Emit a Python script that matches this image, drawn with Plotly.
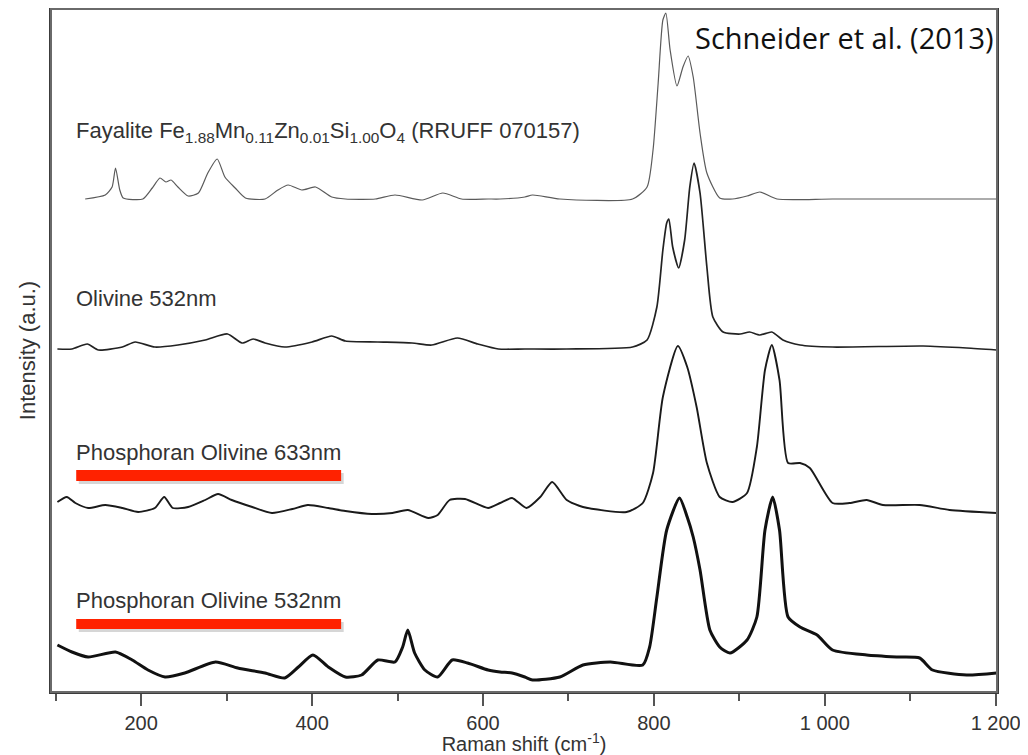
import plotly.graph_objects as go

# ---------------- data (Raman shift in cm^-1, stacked intensity in a.u.) ----------------
fay_x = [134.5, 158, 166, 170, 175, 179, 202, 213, 222, 229, 235, 243, 255, 267, 278, 289, 298, 310, 322,
         345, 360, 372, 388, 404, 423, 439, 474, 497, 529, 553, 575, 606, 620, 649, 658, 690, 775, 792,
         799, 805, 810.5, 814, 819, 827, 834, 840, 846, 854, 862, 877, 892, 909, 924, 944, 1009, 1202]
fay_y = [493, 497, 505, 524, 502, 494, 493, 504, 514, 510, 512, 505, 496, 499, 519, 533, 515, 504, 494,
         493, 502, 507, 502, 505, 495, 493, 493, 497, 492, 499, 493, 493, 493, 495, 497, 493, 493, 505,
         542, 609, 672, 679, 642, 606, 625, 636, 615, 559, 519, 494, 493, 496, 500, 493, 493, 493]

oli_x = [102, 119, 137, 150, 178, 193, 216, 243, 275, 301, 318, 331, 345, 368, 400, 423, 439, 477, 517,
         540, 570, 594, 618, 649, 698, 775, 792, 803.5, 810.5, 815, 817.5, 822, 829, 836, 842, 847, 854,
         862, 869, 881, 901, 912, 924, 938, 951, 971, 1009, 1115, 1166, 1201]
oli_y = [343, 343, 348, 342, 345, 350, 345, 347, 352, 358, 349, 353, 349, 345, 350, 356, 351, 350, 349,
         347, 354, 348, 343, 343, 343, 345, 352, 385, 442, 469, 473, 445, 424, 452, 505, 529, 499,
         425, 375, 360, 358, 360, 357, 360, 352, 347, 345, 346, 344, 342]

p633_x = [102, 113, 123, 138, 158, 178, 196.5, 216, 227, 237, 255, 275, 290, 306, 330, 353, 377, 395, 419,
          439, 470, 494, 512, 536, 547, 561, 579, 606, 620, 634, 651, 667, 681, 698, 717, 768, 787, 799,
          810.5, 828, 839, 850, 862, 877, 892, 909, 920.5, 930, 938, 947, 957, 971, 982.5, 1009, 1029,
          1049, 1068, 1111, 1146, 1201]
p633_y = [190, 195, 189, 184, 187, 184, 180, 184, 195, 184, 185, 192, 198, 192, 185, 179, 183, 187, 184,
          181, 178, 179, 182, 174, 177, 192, 193, 184, 189, 194, 184, 195, 210, 192, 185, 180, 189, 219,
          295, 346, 325, 285, 229, 195, 190, 199, 245, 322, 347, 312, 229, 229, 224, 189, 189,
          192, 187, 187, 182, 179]

p532_x = [102, 119, 138, 170, 189.5, 208, 228, 251, 287, 313, 345, 368, 384, 401, 419, 439, 458, 477, 497,
          506, 512, 520, 532, 547, 564, 582, 606, 620, 634, 649, 658, 690, 717, 749, 787, 795, 803.5,
          815, 830, 839, 846, 854, 865.5, 877, 889, 909, 920.5, 930, 939, 947, 957, 971, 991, 1009,
          1049, 1084, 1111, 1126, 1166, 1201]
p532_y = [47, 40, 35, 40, 32, 22, 15, 19, 30, 24, 19, 14, 25, 37, 25, 15, 17, 32, 30,
          45, 62, 39, 22, 15, 32, 29, 22, 20, 19, 15, 12, 15, 27, 30, 27, 45, 95,
          162, 194, 175, 155, 122, 62, 45, 39, 52, 75, 162, 195, 162, 75, 65, 57, 42,
          37, 35, 34, 22, 17, 19]

x_ticks = [200, 400, 600, 800, 1000, 1200]
x_minor_ticks = [100, 300, 500, 700, 900, 1100]

# ---------------- figure ----------------
fig = go.Figure()
spl = dict(shape="spline", smoothing=0.6)
fig.add_trace(go.Scatter(x=fay_x, y=fay_y, mode="lines", line=dict(color="#5a5a5a", width=1.2, **spl),
                         name="Fayalite", showlegend=False))
fig.add_trace(go.Scatter(x=oli_x, y=oli_y, mode="lines", line=dict(color="#222222", width=1.7, **spl),
                         name="Olivine 532nm", showlegend=False))
fig.add_trace(go.Scatter(x=p633_x, y=p633_y, mode="lines", line=dict(color="#1a1a1a", width=1.9, **spl),
                         name="Phosphoran Olivine 633nm", showlegend=False))
fig.add_trace(go.Scatter(x=p532_x, y=p532_y, mode="lines", line=dict(color="#111111", width=3.0, **spl),
                         name="Phosphoran Olivine 532nm", showlegend=False))

label_font = dict(family="Liberation Sans, Arial, sans-serif", size=22, color="#333333")
labels = [
    ("Fayalite Fe<sub>1.88</sub>Mn<sub>0.11</sub>Zn<sub>0.01</sub>Si<sub>1.00</sub>O<sub>4</sub> (RRUFF 070157)", 560),
    ("Olivine 532nm", 394),
    ("Phosphoran Olivine 633nm", 240),
    ("Phosphoran Olivine 532nm", 92),
]
for txt, yy in labels:
    fig.add_annotation(text=txt, x=0.024, xref="paper", y=yy, yref="y", xanchor="left",
                       yanchor="middle", showarrow=False, font=label_font)

# red underline bars with faint shadow
for y0, y1 in [(211, 222), (63, 73)]:
    fig.add_shape(type="rect", x0=127, x1=437, y0=y0 - 3, y1=y1 - 3, xref="x", yref="y",
                  fillcolor="rgba(0,0,0,0.16)", line=dict(width=0), layer="above")
    fig.add_shape(type="rect", x0=124, x1=434, y0=y0, y1=y1, xref="x", yref="y",
                  fillcolor="#ff2200", line=dict(width=0), layer="above")

# plot frame (top and right edges in grey)
fig.add_shape(type="rect", x0=0, x1=1, y0=0, y1=1, xref="paper", yref="paper",
              line=dict(color="#6a6a6a", width=2), fillcolor="rgba(0,0,0,0)", layer="above")

fig.add_annotation(text="Schneider et al. (2013)", x=0.999, xref="paper", y=1 - (37 - 8) / 684,
                   yref="paper", xanchor="right", yanchor="middle", showarrow=False,
                   font=dict(family="Open Sans, sans-serif", size=29, color="#111111"))

# the page body adds an 8px margin, so the figure is sized/margined to compensate
fig.update_layout(
    width=1020, height=747,
    margin=dict(l=43, r=31, t=1, b=63, autoexpand=False),
    paper_bgcolor="white", plot_bgcolor="white",
    separators=". ",
    font=dict(family="Liberation Sans, Arial, sans-serif", color="#333333"),
    xaxis=dict(
        range=[94.5, 1201.5], showgrid=False, zeroline=False, automargin=False,
        showline=True, mirror=True, linecolor="#3c3c3c", linewidth=1.5,
        ticks="outside", ticklen=12, tickwidth=1.5, tickcolor="#555555",
        tickvals=x_ticks, separatethousands=True,
        tickfont=dict(size=20, color="#333333"),
        minor=dict(tickvals=x_minor_ticks, ticks="outside", ticklen=7,
                   tickwidth=1.5, tickcolor="#555555"),
        title=dict(text="Raman shift (cm<sup>-1</sup>)", font=dict(size=20, color="#333333"), standoff=1),
    ),
    yaxis=dict(
        range=[0, 683], showgrid=False, zeroline=False, automargin=False,
        showline=True, mirror=True, linecolor="#3c3c3c", linewidth=1.5,
        showticklabels=False, ticks="",
        title=dict(text="Intensity (a.u.)", font=dict(size=22, color="#333333"), standoff=8),
    ),
)

fig.write_html("out.html")
